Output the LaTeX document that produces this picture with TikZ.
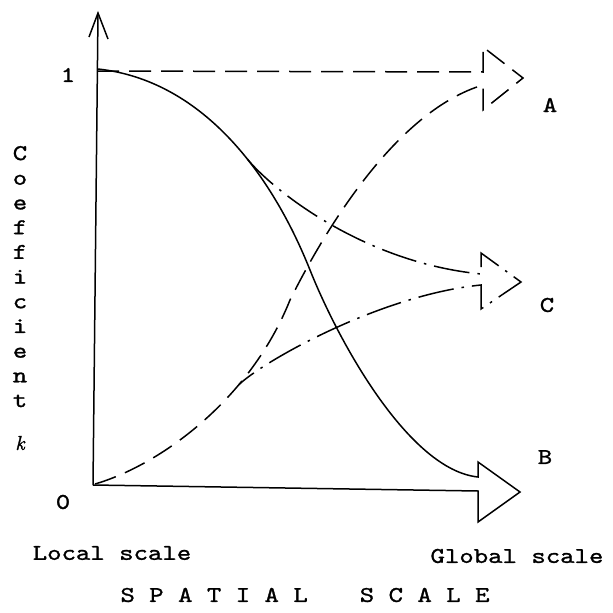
\documentclass[tikz,border=0pt]{standalone}
\usepackage{fontspec}
\newfontfamily\cour{lmmono10-regular.otf}[FakeStretch=1.22,FakeBold=1.2]
\newfontfamily\kfont{lmroman10-italic.otf}[FakeBold=1.5]
\begin{document}
\begin{tikzpicture}[x=1pt,y=-1pt,line width=1.5pt,line join=miter,
  lab/.style={font=\cour\fontsize{22.5}{24.7}\selectfont,inner sep=0pt},
  dashA/.style={dash pattern=on 22pt off 10pt},
  dashC/.style={dash pattern=on 36pt off 8pt on 2.5pt off 8pt}]
\useasboundingbox (0,0) rectangle (613,613);
% axes
\coordinate (O) at (93,485);
\coordinate (Ytip) at (98,13);
\coordinate (Yl) at (89,37);
\coordinate (Yr) at (108,39);
\coordinate (Lone) at (98,71);
\draw (O) -- (Ytip);
\draw (Yl) -- (Ytip) -- (Yr);
% arrow B (solid) with the horizontal axis
\coordinate (Bstart) at (98,69);
\coordinate (Bmid) at (310,270);
\coordinate (Bend) at (478,477);
\coordinate (Bbt) at (478,462);
\coordinate (Btip) at (520,492);
\coordinate (Bbb) at (478,522);
\coordinate (Bbl) at (478,491);
\draw (Bstart) .. controls (200,80) and (270,170) .. (Bmid)
  .. controls (340,345) and (410,470) .. (Bend)
  -- (Bbt) -- (Btip) -- (Bbb) -- (Bbl) -- (O);
% arrow A (dashed) with level-1 line
\coordinate (Astart) at (95,484);
\coordinate (Amid) at (290,300);
\coordinate (Aend) at (483,85);
\coordinate (Aup) at (483,72);
\coordinate (Abt) at (483,47);
\coordinate (Atip) at (523,78);
\coordinate (Abb) at (483,110);
\draw[dashA] (Astart) .. controls (160,465) and (250,400) .. (Amid)
  .. controls (330,220) and (400,110) .. (Aend)
  -- (Abb) -- (Atip) -- (Abt) -- (Aup) -- (Lone);
% arrow C (dash-dot)
\coordinate (Cs1) at (247.5,159.2);
\coordinate (Cs2) at (238.7,384.9);
\coordinate (Cup) at (481,274);
\coordinate (Cbt) at (481,253);
\coordinate (Ctip) at (521,282);
\coordinate (Cbb) at (481,309);
\coordinate (Clo) at (481,285);
\draw[dashC] (Cs1) .. controls (270,187) and (360,262) .. (Cup)
  -- (Cbt) -- (Ctip) -- (Cbb) -- (Clo)
  .. controls (380,295) and (262,362) .. (Cs2);
% labels
\node[lab] (one) at (68,75) {1};
\node[lab] (zero) at (63,502) {0};
\node[lab] (la) at (550,105) {A};
\node[lab] (lc) at (547,305) {C};
\node[lab] (lb) at (545,457) {B};
\node[lab] (local) at (112,553) {Local scale};
\node[lab] (global) at (517,556) {Global scale};
\node[lab] (spatial) at (305,595) {S~P~A~T~I~A~L\hspace{52pt}S~C~A~L~E};
\node[lab,align=center,anchor=north] (coef) at (20,145.3) {C\\o\\e\\f\\f\\i\\c\\i\\e\\n\\t};
\node[font=\kfont\fontsize{20}{22}\selectfont,inner sep=0pt] (kk) at (20,443) {k};
\end{tikzpicture}
\end{document}
